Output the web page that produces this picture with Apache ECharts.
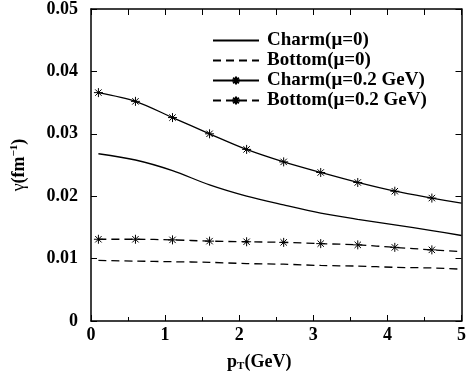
<!DOCTYPE html>
<html>
<head>
<meta charset="utf-8">
<script src="https://cdn.jsdelivr.net/npm/echarts@6/dist/echarts.min.js"></script>
<style>
  html, body { margin: 0; padding: 0; background: #fff; }
  #chart { width: 469px; height: 383px; }
</style>
</head>
<body>
<div id="chart"></div>
<script>
// pT grid (GeV)
var pT = [0.1, 0.6, 1.1, 1.6, 2.1, 2.6, 3.1, 3.6, 4.1, 4.6, 5.0];
// damping rate gamma (fm^-1)
var charmMu0 = [0.0268, 0.0258, 0.0241, 0.0218, 0.0200, 0.0186, 0.0173, 0.0163, 0.0154, 0.0145, 0.0137];
var bottomMu0 = [0.0097, 0.0096, 0.0095, 0.0094, 0.0092, 0.0091, 0.0089, 0.0088, 0.0086, 0.0085, 0.0083];
var charmMu02 = [0.0366, 0.0352, 0.0326, 0.0300, 0.0275, 0.0255, 0.0238, 0.0222, 0.0208, 0.0197, 0.0189];
var bottomMu02 = [0.0131, 0.0131, 0.0130, 0.0128, 0.0127, 0.0126, 0.0124, 0.0122, 0.0118, 0.0114, 0.0111];
var names = ['Charm(\u03bc=0)', 'Bottom(\u03bc=0)', 'Charm(\u03bc=0.2 GeV)', 'Bottom(\u03bc=0.2 GeV)'];
var yTicks = [0, 0.01, 0.02, 0.03, 0.04, 0.05];

// 8-arm asterisk
var star = 'path://M-4.5,0L4.5,0M0,-4.5L0,4.5M-3.2,-3.2L3.2,3.2M-3.2,3.2L3.2,-3.2';
var font = '"Liberation Serif", "Times New Roman", serif';

// pair x with y; no star on the last point at the border
function pairs(ys, marked) {
  return pT.map(function (x, i) {
    var p = { value: [x, ys[i]] };
    if (marked && i === pT.length - 1) p.symbol = 'none';
    return p;
  });
}

function lineSeries(name, ys, dashed, marked) {
  return {
    name: name,
    type: 'line',
    smooth: 0.3,
    data: pairs(ys, marked),
    symbol: star,
    symbolSize: 9,
    showSymbol: marked,
    itemStyle: { color: '#000', borderColor: '#000', borderWidth: 1 },
    lineStyle: { color: '#000', width: 1.3, type: dashed ? [8, 5] : 'solid' },
    emphasis: { disabled: true },
    animation: false
  };
}

var chart = echarts.init(document.getElementById('chart'));
var boxAxis = {
  axisLine: { show: true, onZero: false, lineStyle: { color: '#000', width: 1.5 } },
  axisTick: { show: true, inside: true, length: 6, lineStyle: { color: '#000' } },
  splitLine: { show: false }
};

chart.setOption({
  backgroundColor: '#fff',
  animation: false,
  grid: { left: 91, right: 6, top: 9, bottom: 62 },
  legend: {
    // plain-line entries hide the marker
    data: names.map(function (n, i) {
      return i < 2 ? { name: n, itemStyle: { opacity: 0 } } : { name: n };
    }),
    orient: 'vertical',
    left: 207,
    top: 26,
    itemWidth: 46,
    itemHeight: 10,
    itemGap: 1,
    textStyle: { fontFamily: font, fontWeight: 'bold', fontSize: 19, color: '#000', padding: [0, 0, 0, 3] },
    selectedMode: false
  },
  xAxis: [
    Object.assign({
      type: 'value', min: 0, max: 5, interval: 1,
      minorTick: { show: true, splitNumber: 2, length: 4, lineStyle: { color: '#000' } },
      axisLabel: { fontFamily: font, fontWeight: 'bold', fontSize: 18, color: '#000', margin: 5 },
      name: '{b|p}{s|T}{b|(GeV)}',
      nameLocation: 'middle',
      nameGap: 31,
      nameTextStyle: {
        padding: [0, 34, 0, 0],
        rich: {
          b: { fontFamily: font, fontWeight: 'bold', fontSize: 18, color: '#000' },
          s: { fontFamily: font, fontWeight: 'bold', fontSize: 11, color: '#000', verticalAlign: 'bottom', padding: [9, 0, 0, 0] }
        }
      }
    }, boxAxis),
    Object.assign({
      type: 'value', min: 0, max: 5, interval: 0.5, position: 'top',
      axisLabel: { show: false }
    }, boxAxis)
  ],
  yAxis: [
    Object.assign({
      type: 'value', min: yTicks[0], max: yTicks[yTicks.length - 1], interval: 0.01,
      axisLabel: {
        fontFamily: font, fontWeight: 'bold', fontSize: 18, color: '#000', margin: 13,
        formatter: function (v) { return v === 0 ? '0' : v.toFixed(2); }
      },
      name: '{g|\u03b3}{b|(fm}{s|\u22121}{b|)}',
      nameLocation: 'middle',
      nameGap: 62,
      nameTextStyle: {
        rich: {
          g: { fontFamily: font, fontSize: 18, color: '#000' },
          b: { fontFamily: font, fontWeight: 'bold', fontSize: 18, color: '#000' },
          s: { fontFamily: font, fontWeight: 'bold', fontSize: 11, color: '#000', verticalAlign: 'top', padding: [0, 0, 9, 0] }
        }
      }
    }, boxAxis),
    Object.assign({
      type: 'value', min: 0, max: 0.05, interval: 0.01, position: 'right',
      axisLabel: { show: false }
    }, boxAxis)
  ],
  series: [
    lineSeries(names[0], charmMu0, false, false),
    lineSeries(names[1], bottomMu0, true, false),
    lineSeries(names[2], charmMu02, false, true),
    lineSeries(names[3], bottomMu02, true, true)
  ]
});
</script>
</body>
</html>
